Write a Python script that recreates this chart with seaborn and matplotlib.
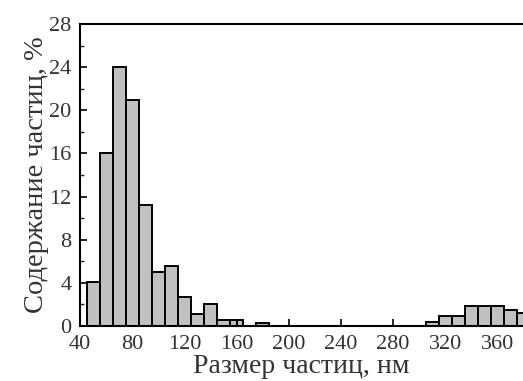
import numpy as np
import matplotlib
matplotlib.use("Agg")
import matplotlib.pyplot as plt
from matplotlib.ticker import MultipleLocator
import seaborn as sns

# bin edges (nm) and particle content (%)
bin_edges = [45, 55, 65, 75, 85, 95, 105, 115, 125, 135, 145, 155, 160, 165,
             175, 185, 305, 315, 325, 335, 345, 355, 365, 375, 385]
content = [4.1, 16.0, 24.0, 21.0, 11.2, 5.0, 5.6, 2.65, 1.15, 2.05, 0.6, 0.6, 0.6,
           0.0, 0.25, 0.0, 0.4, 0.9, 0.9, 1.9, 1.9, 1.9, 1.5, 1.2]
x_ticks = [40, 80, 120, 160, 200, 240, 280, 320, 360]
y_ticks = [0, 4, 8, 12, 16, 20, 24, 28]

centers = [(a + b) / 2 for a, b in zip(bin_edges[:-1], bin_edges[1:])]

sns.set_style("ticks")
plt.rcParams["font.family"] = ["Liberation Serif", "DejaVu Serif"]

fig = plt.figure(figsize=(5.23, 3.81), dpi=100)
ax = fig.add_axes([80 / 523, 1 - 326 / 381, 1 - 80 / 523, (326 - 24) / 381])

sns.histplot(x=centers, weights=content, bins=bin_edges, stat="count",
             color="#c0c0c0", edgecolor="black", linewidth=1.4, alpha=1,
             ax=ax)

ax.set_xlim(40, 379.5)
ax.set_ylim(0, 28)
ax.set_xticks(x_ticks)
ax.set_yticks(y_ticks)
ax.yaxis.set_minor_locator(MultipleLocator(2))

ax.tick_params(axis="both", which="major", direction="in", length=5, width=1.2,
               labelsize=16, colors="black", labelcolor="#333333")
ax.tick_params(axis="x", which="major", pad=6.5)
ax.tick_params(axis="y", which="major", pad=6)
ax.tick_params(axis="both", which="minor", direction="in", length=3, width=1.0)
ax.tick_params(axis="x", which="both", top=False)

for side in ["left", "bottom", "top"]:
    ax.spines[side].set_linewidth(1.5)
    ax.spines[side].set_color("black")
ax.spines["right"].set_visible(False)

ax.set_xlabel("Размер частиц, нм", fontsize=20, color="#333333", labelpad=0)
ax.set_ylabel("Содержание частиц, %", fontsize=20.5, color="#333333", labelpad=0)

fig.savefig("out.png", dpi=100)
